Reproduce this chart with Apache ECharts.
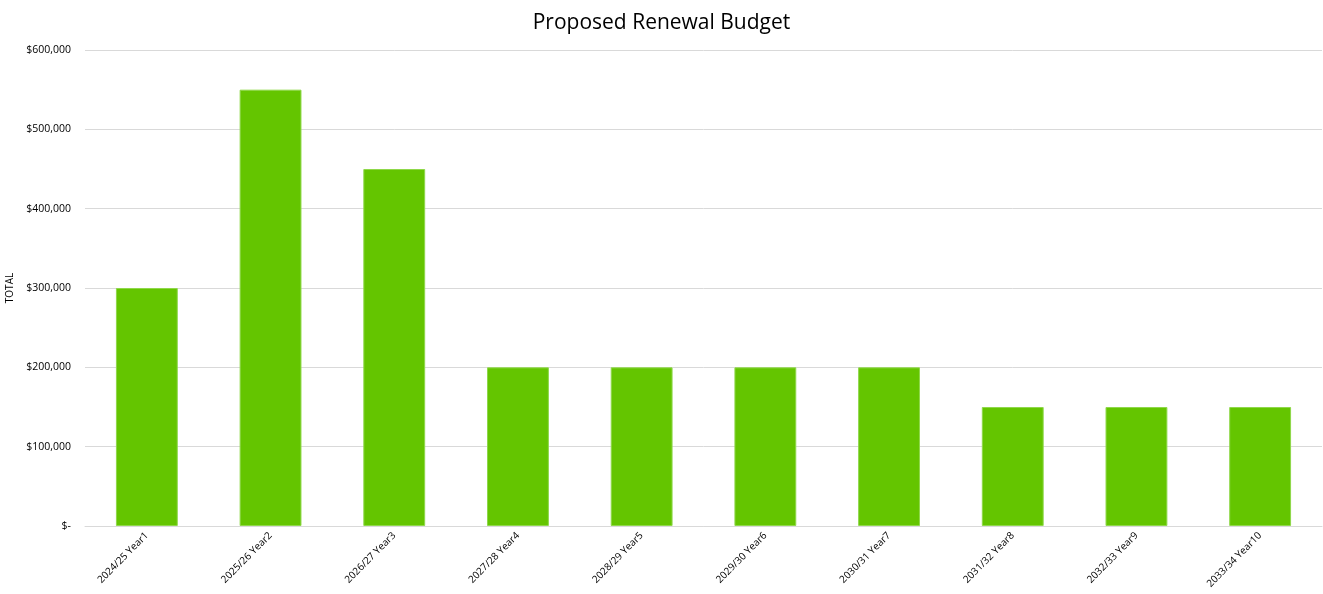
<!DOCTYPE html>
<html>
<head>
<meta charset="utf-8">
<script src="https://cdn.jsdelivr.net/npm/echarts@6/dist/echarts.min.js"></script>
<style>
  html, body { margin: 0; padding: 0; background: #fff; }
  #chart { width: 1323px; height: 594px; }
</style>
</head>
<body>
<div id="chart"></div>
<script>
var categories = ['2024/25 Year1', '2025/26 Year2', '2026/27 Year3', '2027/28 Year4', '2028/29 Year5',
                  '2029/30 Year6', '2030/31 Year7', '2031/32 Year8', '2032/33 Year9', '2033/34 Year10'];
var totals = [300000, 550000, 450000, 200000, 200000, 200000, 200000, 150000, 150000, 150000];

function money(v) {
    if (v === 0) return '$-';
    return '$' + v.toLocaleString('en-US');
}

var chart = echarts.init(document.getElementById('chart'));
chart.setOption({
    animation: false,
    title: {
        text: 'Proposed Renewal Budget',
        left: 'center',
        top: 8,
        textStyle: { fontFamily: 'Open Sans', fontSize: 21, fontWeight: 'normal', color: '#000' }
    },
    grid: { left: 85, right: 1, top: 50, bottom: 68, containLabel: false, outerBoundsMode: 'none' },
    xAxis: {
        type: 'category',
        data: categories,
        axisLine: { lineStyle: { color: '#d9d9d9' } },
        axisTick: { show: false },
        axisLabel: { rotate: 45, fontFamily: 'Open Sans', fontSize: 10, color: '#000', margin: 8 }
    },
    yAxis: {
        type: 'value',
        min: 0,
        max: 600000,
        interval: 100000,
        name: 'TOTAL',
        nameLocation: 'middle',
        nameGap: 67,
        nameTextStyle: { fontFamily: 'Open Sans', fontSize: 10, color: '#000' },
        axisLabel: { formatter: money, fontFamily: 'Open Sans', fontSize: 10.5, color: '#000', margin: 14 },
        splitLine: { lineStyle: { color: '#d9d9d9' } }
    },
    series: [{
        type: 'bar',
        data: totals,
        barWidth: '50%',
        itemStyle: { color: '#64c500', borderColor: '#8fd84a', borderWidth: 1 }
    }]
});
</script>
</body>
</html>
